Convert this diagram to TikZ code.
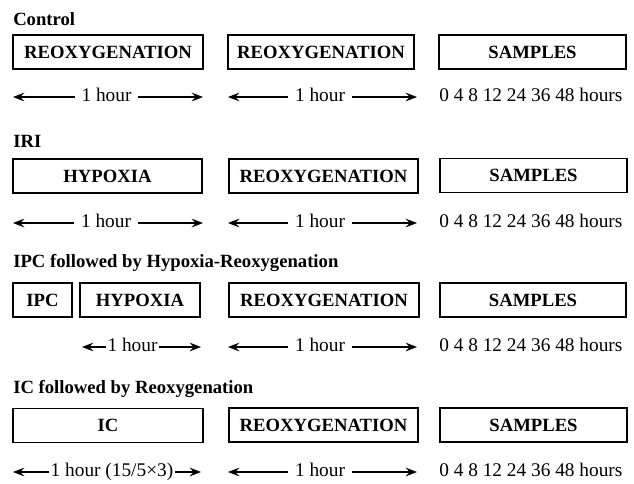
\documentclass[tikz,border=0pt]{standalone}
\usepackage{fontspec}
\setmainfont{Liberation Serif}
\usetikzlibrary{arrows.meta}
\begin{document}
\begin{tikzpicture}[x=0.75pt,y=-0.75pt,
  phase/.style={draw,line width=1.25pt,inner sep=0pt,minimum height=25.5pt,
    font=\fontsize{14}{16}\selectfont\bfseries},
  grouplabel/.style={anchor=base west,inner sep=0pt,font=\fontsize{14}{16}\selectfont\bfseries},
  span/.style={inner ysep=0pt,inner xsep=5pt,text height=9.5pt,text depth=3pt,
    font=\fontsize{14.5}{16}\selectfont},
  tight/.style={inner xsep=1pt},
  times/.style={anchor=west,inner sep=0pt,text height=9.5pt,text depth=3pt,
    font=\fontsize{14.5}{16}\selectfont},
  harrow/.style={line width=0.8pt,-{Stealth[length=8.5pt,width=6.5pt,inset=3pt]}}]
\useasboundingbox (0,0) rectangle (634,483);

% ---------- Control ----------
\node[grouplabel] (lc) at (13,25) {Control};
\node[phase,minimum width=142.5pt] (c1) at (108,52) {REOXYGENATION};
\node[phase,minimum width=139.5pt] (c2) at (321,52) {REOXYGENATION};
\node[phase,minimum width=140.25pt] (c3) at (532.5,52) {SAMPLES};
\coordinate (c1l) at (13,97); \coordinate (c1r) at (203,97);
\coordinate (c2l) at (228,97); \coordinate (c2r) at (417,97);
\node[span] (ct1) at (106.5,97) {1 hour};
\node[span] (ct2) at (320,97) {1 hour};
\draw[harrow] (ct1.west) -- (c1l); \draw[harrow] (ct1.east) -- (c1r);
\draw[harrow] (ct2.west) -- (c2l); \draw[harrow] (ct2.east) -- (c2r);
\node[times] (ch) at (439,97) {0 4 8 12 24 36 48 hours};

% ---------- IRI ----------
\node[grouplabel] (li) at (13,147) {IRI};
\node[phase,minimum width=141.75pt] (i1) at (107.5,176) {HYPOXIA};
\node[phase,minimum width=141.75pt] (i2) at (323.5,176) {REOXYGENATION};
\node[phase,minimum width=140.25pt] (i3) at (533.5,175.5) {SAMPLES};
\coordinate (i1l) at (13,223); \coordinate (i1r) at (203,223);
\coordinate (i2l) at (228,223); \coordinate (i2r) at (417,223);
\node[span] (it1) at (106,223) {1 hour};
\node[span] (it2) at (320,223) {1 hour};
\draw[harrow] (it1.west) -- (i1l); \draw[harrow] (it1.east) -- (i1r);
\draw[harrow] (it2.west) -- (i2l); \draw[harrow] (it2.east) -- (i2r);
\node[times] (ih) at (439,223) {0 4 8 12 24 36 48 hours};

% ---------- IPC ----------
\node[grouplabel] (lp) at (13,267) {IPC followed by Hypoxia-Reoxygenation};
\node[phase,minimum width=44.25pt] (p0) at (42.5,300) {IPC};
\node[phase,minimum width=90pt] (p1) at (140,300) {HYPOXIA};
\node[phase,minimum width=142.5pt] (p2) at (324,300) {REOXYGENATION};
\node[phase,minimum width=139.5pt] (p3) at (533,300) {SAMPLES};
\coordinate (p1l) at (82,347); \coordinate (p1r) at (201,347);
\coordinate (p2l) at (228,347); \coordinate (p2r) at (417,347);
\node[span,tight] (pt1) at (132.5,347) {1 hour};
\node[span] (pt2) at (320,347) {1 hour};
\draw[harrow] (pt1.west) -- (p1l); \draw[harrow] (pt1.east) -- (p1r);
\draw[harrow] (pt2.west) -- (p2l); \draw[harrow] (pt2.east) -- (p2r);
\node[times] (ph) at (439,347) {0 4 8 12 24 36 48 hours};

% ---------- IC ----------
\node[grouplabel] (lx) at (13,393) {IC followed by Reoxygenation};
\node[phase,minimum width=142.5pt] (x1) at (108,425.5) {IC};
\node[phase,minimum width=141.75pt] (x2) at (323.5,425) {REOXYGENATION};
\node[phase,minimum width=140.25pt] (x3) at (533.5,425) {SAMPLES};
\coordinate (x1l) at (13,472); \coordinate (x1r) at (201,472);
\coordinate (x2l) at (228,472); \coordinate (x2r) at (417,472);
\node[span,tight] (xt1) at (112,472) {1 hour (15/5×3)};
\node[span] (xt2) at (320,472) {1 hour};
\draw[harrow] (xt1.west) -- (x1l); \draw[harrow] (xt1.east) -- (x1r);
\draw[harrow] (xt2.west) -- (x2l); \draw[harrow] (xt2.east) -- (x2r);
\node[times] (xh) at (439,472) {0 4 8 12 24 36 48 hours};
\end{tikzpicture}
\end{document}
